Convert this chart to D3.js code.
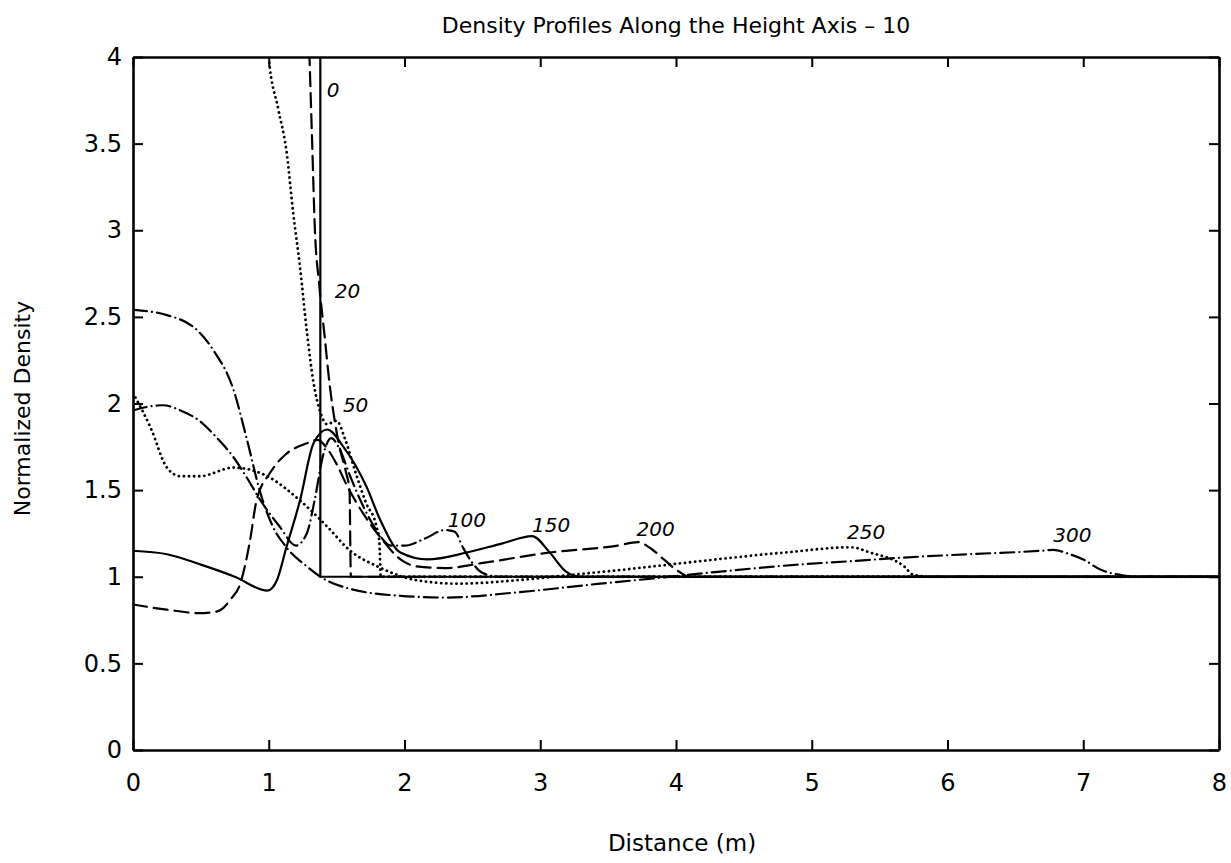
<!DOCTYPE html>
<html>
<head>
<meta charset="utf-8">
<script src="https://cdn.jsdelivr.net/npm/d3@7"></script>
<style>
  body { margin: 0; background: white; }
  text { font-family: "DejaVu Sans", sans-serif; fill: black; }
</style>
</head>
<body>
<div id="chart"></div>
<script>

// chart values
var times = [0, 20, 50, 100, 150, 200, 250, 300];

var profile0 = [[0,6],[1.38,6],[1.38,1.0],[8,1.0]];

var profile20 = [[0,6],[1.2,6],[1.28,4.5],[1.3,4.0],[1.32,3.5],[1.34,3.0],[1.37,2.7],[1.41,2.4],
	[1.45,2.1],[1.49,1.88],[1.53,1.72],[1.57,1.6],[1.595,1.5],[1.605,1.0],[8,1.0]];

var profile50 = [[0,6],[0.9,6],[0.98,4.3],[1.0,4.0],[1.07,3.7],[1.13,3.46],[1.18,3.1],[1.23,2.79],
	[1.28,2.42],[1.33,2.12],[1.38,1.95],[1.43,1.88],[1.5,1.9],[1.56,1.8],[1.64,1.6],[1.72,1.42],
	[1.79,1.3],[1.815,1.2],[1.825,1.0],[8,1.0]];

var profile100 = [[0,1.96],[0.1,1.98],[0.22,1.99],[0.35,1.96],[0.49,1.9],[0.62,1.8],[0.74,1.69],
	[0.84,1.57],[0.94,1.44],[1.08,1.29],[1.2,1.18],[1.28,1.25],[1.34,1.45],[1.4,1.7],[1.46,1.8],
	[1.52,1.74],[1.6,1.58],[1.7,1.4],[1.8,1.26],[1.9,1.18],[2.0,1.18],[2.15,1.22],[2.3,1.27],
	[2.37,1.26],[2.43,1.17],[2.5,1.08],[2.58,1.02],[2.7,1.0],[8,1.0]];

var profile150 = [[0,1.15],[0.25,1.13],[0.5,1.07],[0.75,1.0],[0.99,0.92],[1.06,0.98],[1.13,1.17],
	[1.23,1.44],[1.33,1.77],[1.43,1.85],[1.55,1.75],[1.72,1.52],[1.82,1.33],[1.97,1.14],[2.17,1.1],
	[2.46,1.14],[2.71,1.19],[2.94,1.235],[3.07,1.14],[3.19,1.03],[3.3,1.0],[8,1.0]];

var profile200 = [[0,0.84],[0.25,0.81],[0.49,0.79],[0.62,0.8],[0.72,0.87],[0.79,0.96],[0.86,1.2],
	[0.91,1.44],[1.01,1.6],[1.13,1.71],[1.28,1.77],[1.36,1.79],[1.43,1.74],[1.5,1.65],[1.58,1.52],
	[1.7,1.36],[1.84,1.21],[1.97,1.1],[2.09,1.06],[2.3,1.05],[2.58,1.08],[3.07,1.14],[3.57,1.18],
	[3.72,1.2],[3.82,1.16],[3.91,1.1],[4.02,1.03],[4.1,1.0],[8,1.0]];

var profile250 = [[0,2.06],[0.13,1.86],[0.25,1.63],[0.35,1.58],[0.49,1.58],[0.74,1.63],[0.99,1.58],
	[1.23,1.44],[1.43,1.29],[1.6,1.15],[1.8,1.06],[2.09,0.98],[2.4,0.96],[2.83,0.98],[3.22,1.01],
	[3.6,1.04],[4.06,1.08],[4.8,1.14],[5.29,1.17],[5.43,1.14],[5.68,1.06],[5.75,1.01],[5.9,1.0],[8,1.0]];

var profile300 = [[0,2.54],[0.25,2.51],[0.49,2.41],[0.59,2.31],[0.74,2.08],[0.84,1.79],[0.94,1.48],
	[1.03,1.29],[1.13,1.17],[1.28,1.06],[1.38,1.0],[1.6,0.93],[1.97,0.89],[2.3,0.88],[2.83,0.91],
	[3.44,0.96],[3.7,0.98],[4.2,1.02],[4.9,1.07],[5.29,1.09],[5.66,1.11],[6.15,1.13],[6.69,1.15],
	[6.78,1.155],[6.9,1.13],[7.0,1.1],[7.13,1.04],[7.28,1.01],[7.4,1.0],[8,1.0]];

var profiles = [profile0, profile20, profile50, profile100, profile150, profile200, profile250, profile300];

// where the hand written time labels sit (data units)
var labelX = [1.475, 1.58, 1.64, 2.46, 3.08, 3.85, 5.40, 6.92];
var labelY = [3.81, 2.65, 1.99, 1.33, 1.30, 1.275, 1.26, 1.24];

var xTicks = [0, 1, 2, 3, 4, 5, 6, 7, 8];
var yTicks = [0, 0.5, 1, 1.5, 2, 2.5, 3, 3.5, 4];

// line style for each curve, cycling like matlab
var dashes = [null, "14,7", "0.1,5", "14,5,0.1,5", null, "14,7", "0.1,5", "14,5,0.1,5"];

var width = 1231,
	height = 863,
	margin = {top: 57, right: 12, bottom: 113, left: 133};

var svg = d3.select("#chart").append("svg")
	.attr("width", width)
	.attr("height", height);

svg.append("rect")
	.attr("width", width)
	.attr("height", height)
	.attr("fill", "white");

var x = d3.scaleLinear().domain([0, 8]).range([margin.left, width - margin.right]);
var y = d3.scaleLinear().domain([0, 4]).range([height - margin.bottom, margin.top]);

svg.append("clipPath").attr("id", "plotclip")
	.append("rect")
	.attr("x", x(0))
	.attr("y", y(4))
	.attr("width", x(8) - x(0))
	.attr("height", y(0) - y(4));

var plot = svg.append("g").attr("clip-path", "url(#plotclip)");

var smooth = d3.line()
	.x(function(d){ return x(d[0]); })
	.y(function(d){ return y(d[1]); })
	.curve(d3.curveMonotoneX);

var straight = d3.line()
	.x(function(d){ return x(d[0]); })
	.y(function(d){ return y(d[1]); });

plot.selectAll("path.profile")
	.data(profiles)
	.enter().append("path")
	.attr("class", "profile")
	.attr("fill", "none")
	.attr("stroke", "black")
	.attr("stroke-width", function(d, i){ return dashes[i] && dashes[i].indexOf("0.1") == 0 ? 2.8 : 2.2; })
	.attr("stroke-linecap", function(d, i){ return dashes[i] ? "round" : "butt"; })
	.attr("stroke-dasharray", function(d, i){ return dashes[i]; })
	.attr("d", function(d, i){ return i == 0 ? straight(d) : smooth(d); });

// axes, ticks pointing inwards on all four sides
var fontSize = 24;

var axBottom = svg.append("g")
	.attr("transform", "translate(0," + y(0) + ")")
	.call(d3.axisBottom(x).tickValues(xTicks).tickSizeInner(-10).tickSizeOuter(0).tickPadding(24));
var axTop = svg.append("g")
	.attr("transform", "translate(0," + y(4) + ")")
	.call(d3.axisTop(x).tickValues(xTicks).tickSizeInner(-10).tickSizeOuter(0).tickFormat(""));
var axLeft = svg.append("g")
	.attr("transform", "translate(" + x(0) + ",0)")
	.call(d3.axisLeft(y).tickValues(yTicks).tickSizeInner(-10).tickSizeOuter(0).tickPadding(11)
		.tickFormat(function(d){ return d3.format("")(d); }));
var axRight = svg.append("g")
	.attr("transform", "translate(" + x(8) + ",0)")
	.call(d3.axisRight(y).tickValues(yTicks).tickSizeInner(-10).tickSizeOuter(0).tickFormat(""));

[axBottom, axTop, axLeft, axRight].forEach(function(a){
	a.select(".domain").attr("stroke-width", 2.6);
	a.selectAll(".tick line").attr("stroke-width", 2);
	a.selectAll("text")
		.attr("font-size", fontSize)
		.attr("font-family", "DejaVu Sans, sans-serif");
});

// time labels written on the curves
svg.selectAll("text.tlabel")
	.data(times)
	.enter().append("text")
	.attr("class", "tlabel")
	.attr("x", function(d, i){ return x(labelX[i]); })
	.attr("y", function(d, i){ return y(labelY[i]); })
	.attr("dy", "0.35em")
	.attr("text-anchor", "middle")
	.attr("font-size", 20)
	.attr("font-style", "italic")
	.text(function(d){ return d; });

svg.append("text")
	.attr("x", (x(0) + x(8)) / 2)
	.attr("y", 33)
	.attr("text-anchor", "middle")
	.attr("font-size", 22)
	.text("Density Profiles Along the Height Axis  \u2013  10");

svg.append("text")
	.attr("x", (x(0) + x(8)) / 2 + 6)
	.attr("y", 851)
	.attr("text-anchor", "middle")
	.attr("font-size", 23)
	.text("Distance (m)");

svg.append("text")
	.attr("transform", "translate(30," + (y(2) + 5) + ") rotate(-90)")
	.attr("text-anchor", "middle")
	.attr("font-size", 22)
	.text("Normalized Density");

</script>
</body>
</html>
